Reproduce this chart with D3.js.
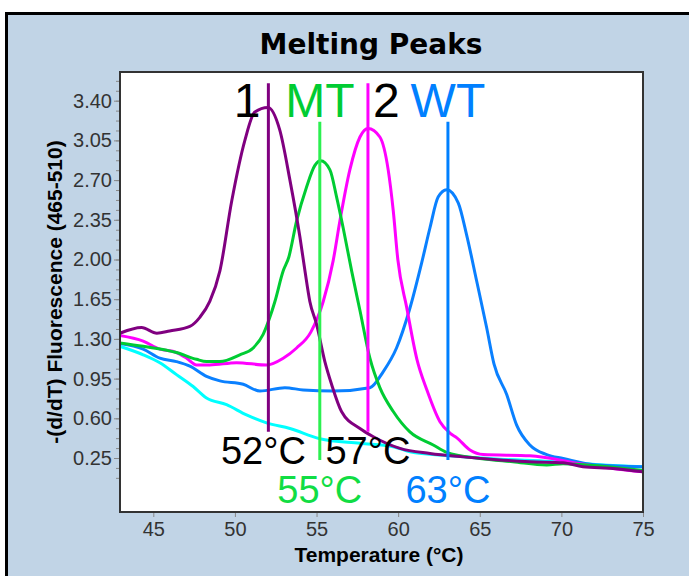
<!DOCTYPE html>
<html>
<head>
<meta charset="utf-8">
<script src="https://cdnjs.cloudflare.com/ajax/libs/d3/7.8.5/d3.min.js"></script>
<style>
body { margin: 0; background: #fff; }
</style>
</head>
<body>
<script>
// sample 1 (purple)
var s1Temp = [42.95, 44.28, 45.22, 46.0, 47.24, 47.85, 48.46, 49.08, 49.81, 50.61, 51.22, 52.02, 52.75, 53.37, 53.98, 54.29, 54.59, 55.0, 55.51, 55.92, 56.53, 57.66, 58.45, 60.11, 61.95, 63.97, 66.05, 68.07, 70.1, 71.32, 73.16, 75.0];
var s1Val  = [1.35, 1.40, 1.35, 1.37, 1.41, 1.49, 1.63, 1.90, 2.52, 3.05, 3.30, 3.34, 3.14, 2.70, 2.20, 1.90, 1.63, 1.43, 1.10, 0.90, 0.66, 0.51, 0.44, 0.335, 0.29, 0.26, 0.235, 0.217, 0.208, 0.173, 0.158, 0.128];
// MT (green)
var mtTemp = [42.95, 44.38, 46.42, 47.65, 48.26, 49.08, 50.3, 51.12, 51.73, 52.14, 52.45, 52.96, 53.3, 53.78, 54.39, 54.9, 55.25, 55.82, 56.23, 56.63, 57.15, 57.66, 58.27, 58.88, 59.7, 60.72, 62.15, 62.97, 65.01, 67.03, 69.1, 70.1, 72.36, 75.0];
var mtVal  = [1.265, 1.235, 1.18, 1.12, 1.10, 1.10, 1.16, 1.22, 1.34, 1.49, 1.63, 1.90, 2.02, 2.34, 2.64, 2.83, 2.87, 2.79, 2.55, 2.28, 1.90, 1.55, 1.13, 0.87, 0.66, 0.48, 0.365, 0.30, 0.246, 0.217, 0.188, 0.20, 0.18, 0.14];
// sample 2 (magenta)
var s2Temp = [42.95, 44.38, 45.4, 46.42, 47.04, 47.65, 48.46, 50.1, 51.94, 52.96, 53.78, 54.65, 55.41, 56.02, 56.43, 57.04, 57.66, 58.16, 58.88, 59.39, 59.7, 59.98, 60.52, 61.15, 61.76, 62.56, 63.17, 63.58, 64.4, 65.21, 68.07, 71.14, 73.18, 75.0];
var s2Val  = [1.33, 1.28, 1.21, 1.18, 1.13, 1.07, 1.07, 1.09, 1.07, 1.13, 1.22, 1.36, 1.63, 1.99, 2.34, 2.79, 3.08, 3.155, 3.08, 2.79, 2.43, 2.0, 1.58, 1.12, 0.85, 0.57, 0.47, 0.43, 0.32, 0.28, 0.27, 0.20, 0.158, 0.128];
// WT (blue)
var wtTemp = [42.95, 44.38, 45.4, 46.42, 47.24, 48.26, 49.08, 50.51, 51.53, 53.06, 54.18, 56.02, 58.27, 59.08, 59.9, 60.72, 61.44, 61.95, 62.45, 62.97, 63.68, 64.19, 64.81, 65.42, 65.87, 66.65, 67.26, 68.07, 69.1, 70.11, 72.16, 75.0];
var wtVal  = [1.26, 1.21, 1.13, 1.10, 1.06, 0.97, 0.93, 0.90, 0.84, 0.87, 0.85, 0.84, 0.87, 1.01, 1.22, 1.57, 1.97, 2.28, 2.55, 2.615, 2.50, 2.22, 1.81, 1.40, 1.08, 0.81, 0.54, 0.365, 0.28, 0.246, 0.188, 0.173];
// no template (cyan)
var ntcTemp = [42.95, 44.38, 45.4, 46.42, 47.44, 48.26, 49.49, 50.71, 51.94, 53.37, 55.2, 57.66, 59.7, 60.72, 63.17, 66.23, 69.3, 72.36, 75.0];
var ntcVal  = [1.235, 1.16, 1.09, 0.985, 0.88, 0.78, 0.72, 0.63, 0.56, 0.51, 0.42, 0.38, 0.35, 0.305, 0.27, 0.24, 0.22, 0.19, 0.173];

// peak markers
var peakNames  = ['1', 'MT', '2', 'WT'];
var peakTemps  = [52.05, 55.2, 58.15, 63.05];
var peakTop    = [3.554, 3.215, 3.554, 3.215];
var peakBottom = [0.482, 0.233, 0.482, 0.233];
var peakLabels = ['52°C', '55°C', '57°C', '63°C'];
var nameLevel  = 3.257;
var labelLevel = [0.197, -0.146, 0.197, -0.146];

var yTicks = [0.25, 0.60, 0.95, 1.30, 1.65, 2.00, 2.35, 2.70, 3.05, 3.40];
var xTicks = [45, 50, 55, 60, 65, 70, 75];

var margin = {top: 72, left: 120},
    width = 523,
    height = 440;

var x = d3.scaleLinear().domain([42.96, 75]).range([0, width]);
var y = d3.scaleLinear().domain([-0.226, 3.653]).range([height, 0]);

var svg = d3.select('body').append('svg')
    .attr('width', 689)
    .attr('height', 576);

// outer panel
svg.append('rect')
    .attr('x', 6.5).attr('y', 13.5)
    .attr('width', 700).attr('height', 600)
    .attr('fill', '#c1d4e6')
    .attr('stroke', '#000')
    .attr('stroke-width', 3);

svg.append('text')
    .attr('x', 371).attr('y', 54)
    .attr('text-anchor', 'middle')
    .style('font-family', 'DejaVu Sans')
    .style('font-weight', 'bold')
    .style('font-size', '28px')
    .text('Melting Peaks');

var g = svg.append('g')
    .attr('transform', 'translate(' + margin.left + ',' + margin.top + ')');

g.append('rect')
    .attr('width', width).attr('height', height)
    .attr('fill', '#fff');

g.append('clipPath').attr('id', 'clip')
    .append('rect').attr('width', width).attr('height', height);

// axes
var minorTicks = d3.range(0.075, 3.65, 0.0875);
var yMinor = g.append('g').call(d3.axisLeft(y).tickValues(minorTicks).tickSize(4).tickFormat(''));
var yAxis = g.append('g').call(d3.axisLeft(y).tickValues(yTicks).tickSize(6).tickPadding(2).tickFormat(d3.format('.2f')));
var xAxis = g.append('g')
    .attr('transform', 'translate(0,' + height + ')')
    .call(d3.axisBottom(x).tickValues(xTicks).tickSize(5).tickPadding(5).tickFormat(d3.format('d')));

[yMinor, yAxis, xAxis].forEach(function (a) {
    a.select('.domain').remove();
    a.selectAll('line').attr('stroke', '#888');
    a.selectAll('text')
        .style('font-family', 'Liberation Sans, Arial')
        .style('font-size', '20px')
        .attr('fill', '#333');
});

// curves
var series = [
    {temp: ntcTemp, val: ntcVal, color: '#00ffff'},
    {temp: wtTemp, val: wtVal, color: '#0a80ff'},
    {temp: s2Temp, val: s2Val, color: '#ff00ff'},
    {temp: mtTemp, val: mtVal, color: '#00cc33'},
    {temp: s1Temp, val: s1Val, color: '#800080'}
];

var line = d3.line()
    .x(function (d) { return x(d[0]); })
    .y(function (d) { return y(d[1]); })
    .curve(d3.curveMonotoneX);

g.append('g').attr('clip-path', 'url(#clip)')
    .selectAll('path')
    .data(series)
    .enter()
    .append('path')
    .attr('d', function (s) { return line(d3.zip(s.temp, s.val)); })
    .attr('fill', 'none')
    .attr('stroke', function (s) { return s.color; })
    .attr('stroke-width', 3)
    .attr('stroke-linejoin', 'round');

// peak lines and labels
var lineColors = ['#800080', '#2cf050', '#ff00ff', '#0080ff'];
var nameColors = ['#000', '#00cc33', '#000', '#0080ff'];
var tempColors = ['#000', '#11dd44', '#000', '#0080ff'];
var nameAnchor = ['end', 'middle', 'start', 'middle'];
var nameShift = [-8, 0, 5, 0];
var tempShift = [-5, 0, 0, 0];

var peaks = g.selectAll('.peak')
    .data(peakTemps)
    .enter()
    .append('g')
    .attr('class', 'peak');

peaks.append('line')
    .attr('x1', function (d) { return x(d); })
    .attr('x2', function (d) { return x(d); })
    .attr('y1', function (d, i) { return y(peakTop[i]); })
    .attr('y2', function (d, i) { return y(peakBottom[i]); })
    .attr('stroke', function (d, i) { return lineColors[i]; })
    .attr('stroke-width', 3);

peaks.append('text')
    .attr('x', function (d, i) { return x(d) + nameShift[i]; })
    .attr('y', y(nameLevel))
    .attr('text-anchor', function (d, i) { return nameAnchor[i]; })
    .attr('fill', function (d, i) { return nameColors[i]; })
    .style('font-family', 'Liberation Sans, Arial')
    .style('font-size', '48px')
    .text(function (d, i) { return peakNames[i]; });

peaks.append('text')
    .attr('x', function (d, i) { return x(d) + tempShift[i]; })
    .attr('y', function (d, i) { return y(labelLevel[i]); })
    .attr('text-anchor', 'middle')
    .attr('fill', function (d, i) { return tempColors[i]; })
    .style('font-family', 'Liberation Sans, Arial')
    .style('font-size', '38px')
    .text(function (d, i) { return peakLabels[i]; });

// plot frame
g.append('rect')
    .attr('width', width).attr('height', height)
    .attr('fill', 'none')
    .attr('stroke', '#333')
    .attr('stroke-width', 2);

// axis titles
svg.append('text')
    .attr('x', 379).attr('y', 562)
    .attr('text-anchor', 'middle')
    .style('font-family', 'Liberation Sans, Arial')
    .style('font-weight', 'bold')
    .style('font-size', '21px')
    .text('Temperature (°C)');

svg.append('text')
    .attr('transform', 'translate(62,' + (margin.top + height / 2) + ') rotate(-90)')
    .attr('text-anchor', 'middle')
    .style('font-family', 'Liberation Sans, Arial')
    .style('font-weight', 'bold')
    .style('font-size', '21px')
    .text('-(d/dT) Fluorescence (465-510)');
</script>
</body>
</html>
